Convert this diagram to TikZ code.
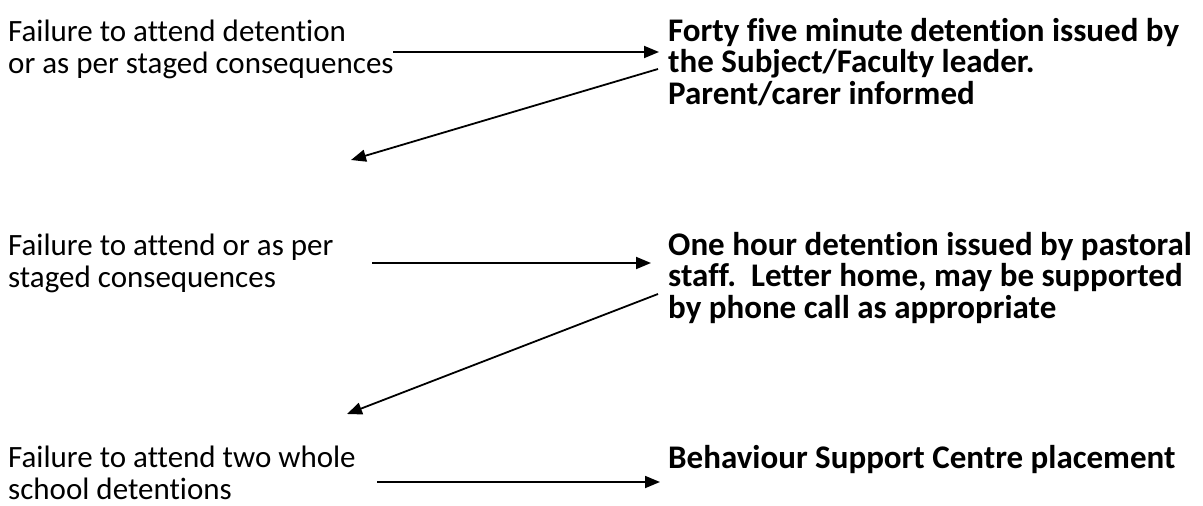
\documentclass[tikz,border=0pt]{standalone}
\usepackage{fontspec}
\setmainfont{Carlito}[Ligatures=NoCommon]
\usetikzlibrary{arrows.meta}
\begin{document}
\begin{tikzpicture}[x=1pt,y=-1pt,
  lefttext/.style={anchor=base west,inner sep=0pt,align=left,font=\fontsize{31}{31.3}\selectfont},
  righttext/.style={anchor=base west,inner sep=0pt,align=left,font=\fontsize{33}{31.3}\selectfont\bfseries},
  conn/.style={line width=1.8pt,-{Triangle[length=15pt,width=12pt]}}]
\useasboundingbox (0,0) rectangle (1203,506);
\node[lefttext] (l1) at (8,73) {Failure to attend detention\\or as per staged consequences};
\node[righttext] (r1) at (668,104) {Forty five minute detention issued by\\the Subject/Faculty leader.\\Parent/carer informed};
\node[lefttext] (l2) at (8,287) {Failure to attend or as per\\staged consequences};
\node[righttext] (r2) at (668,318) {One hour detention issued by pastoral\\staff.\ \ Letter home, may be supported\\by phone call as appropriate};
\node[lefttext] (l3) at (8,499) {Failure to attend two whole\\school detentions};
\node[righttext] (r3) at (668,468) {Behaviour Support Centre placement};
\coordinate (a1s) at (393,52);
\coordinate (a1e) at (659,52);
\coordinate (d1s) at (658,69);
\coordinate (d1e) at (351,160);
\coordinate (a2s) at (372,263);
\coordinate (a2e) at (651,263);
\coordinate (d2s) at (658,294);
\coordinate (d2e) at (347,414);
\coordinate (a3s) at (377,482);
\coordinate (a3e) at (660,482);
\draw[conn] (a1s) -- (a1e);
\draw[conn] (d1s) -- (d1e);
\draw[conn] (a2s) -- (a2e);
\draw[conn] (d2s) -- (d2e);
\draw[conn] (a3s) -- (a3e);
\end{tikzpicture}
\end{document}
